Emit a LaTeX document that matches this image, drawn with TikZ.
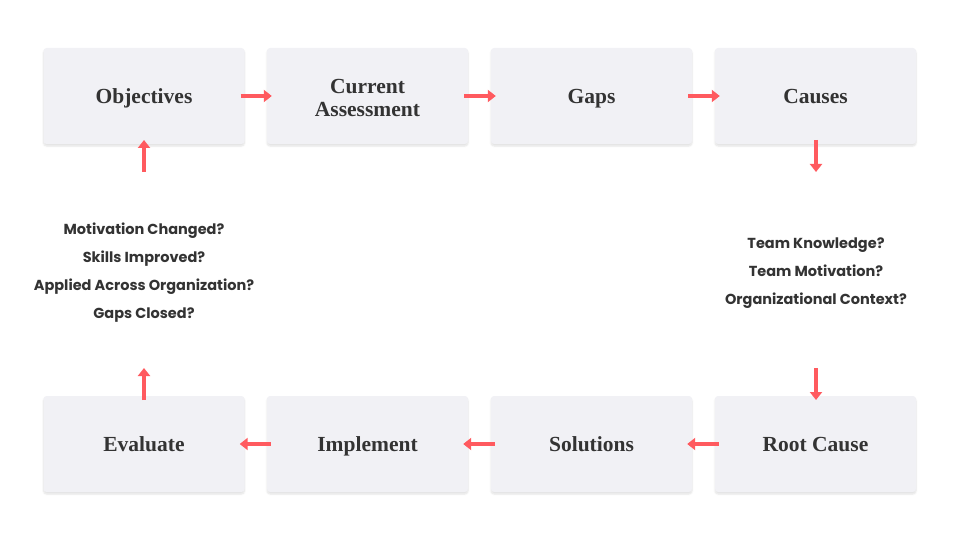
\documentclass[tikz,border=0pt]{standalone}
\usepackage{fontspec}
\setmainfont{Liberation Serif}
\newfontfamily\qfont{Poppins}
\usetikzlibrary{arrows.meta,shadows.blur}
\definecolor{boxfill}{HTML}{F1F1F5}
\definecolor{txt}{HTML}{333333}
\definecolor{arrred}{HTML}{FF5A5F}
\tikzset{
  stagebox/.style={rounded corners=3pt, fill=boxfill, minimum width=201pt, minimum height=96pt,
    blur shadow={shadow xshift=0pt, shadow yshift=-2pt, shadow blur steps=6, shadow opacity=12},
    font=\bfseries\fontsize{21.5}{23}\selectfont, text=txt, align=center},
  oneline/.style={text height=14.5pt, text depth=0pt},
  qtext/.style={font=\qfont\bfseries\fontsize{14.5}{28}\selectfont, text=txt, align=center},
  arr/.style={draw=arrred, line width=4pt, -{Triangle[width=12pt,length=8pt]}}
}
\begin{document}
\begin{tikzpicture}[x=1pt,y=-1pt]
\useasboundingbox (0,0) rectangle (960,540);
\node[stagebox,oneline] (obj) at (144,96) {Objectives};
\node[stagebox] (cur) at (367.5,96) {\rule{0pt}{18pt}Current\\Assessment};
\node[stagebox,oneline] (gaps) at (591.5,96) {Gaps};
\node[stagebox,oneline] (cau) at (815.5,96) {Causes};
\node[stagebox,oneline] (eva) at (144,444) {Evaluate};
\node[stagebox,oneline] (imp) at (367.5,444) {Implement};
\node[stagebox,oneline] (sol) at (591.5,444) {Solutions};
\node[stagebox,oneline] (root) at (815.5,444) {Root Cause};
\node[qtext] (qleft) at (144,273) {Motivation Changed?\\Skills Improved?\\Applied Across Organization?\\Gaps Closed?};
\node[qtext] (qright) at (816,273) {Team Knowledge?\\Team Motivation?\\Organizational Context?};
\coordinate (c1) at (816,140);
\coordinate (c2) at (816,172);
\coordinate (c3) at (816,368);
\coordinate (c4) at (816,400);
\coordinate (c5) at (144,400);
\coordinate (c6) at (144,368);
\coordinate (c7) at (144,172);
\coordinate (c8) at (144,140);
\draw[arr, shorten <=-4pt, shorten >=-5pt] (obj) -- (cur);
\draw[arr, shorten <=-4pt, shorten >=-5pt] (cur) -- (gaps);
\draw[arr, shorten <=-4pt, shorten >=-5pt] (gaps) -- (cau);
\draw[arr] (c1) -- (c2);
\draw[arr] (c3) -- (c4);
\draw[arr, shorten <=-4pt, shorten >=-5pt] (root) -- (sol);
\draw[arr, shorten <=-4pt, shorten >=-5pt] (sol) -- (imp);
\draw[arr, shorten <=-4pt, shorten >=-5pt] (imp) -- (eva);
\draw[arr] (c5) -- (c6);
\draw[arr] (c7) -- (c8);
\end{tikzpicture}
\end{document}
